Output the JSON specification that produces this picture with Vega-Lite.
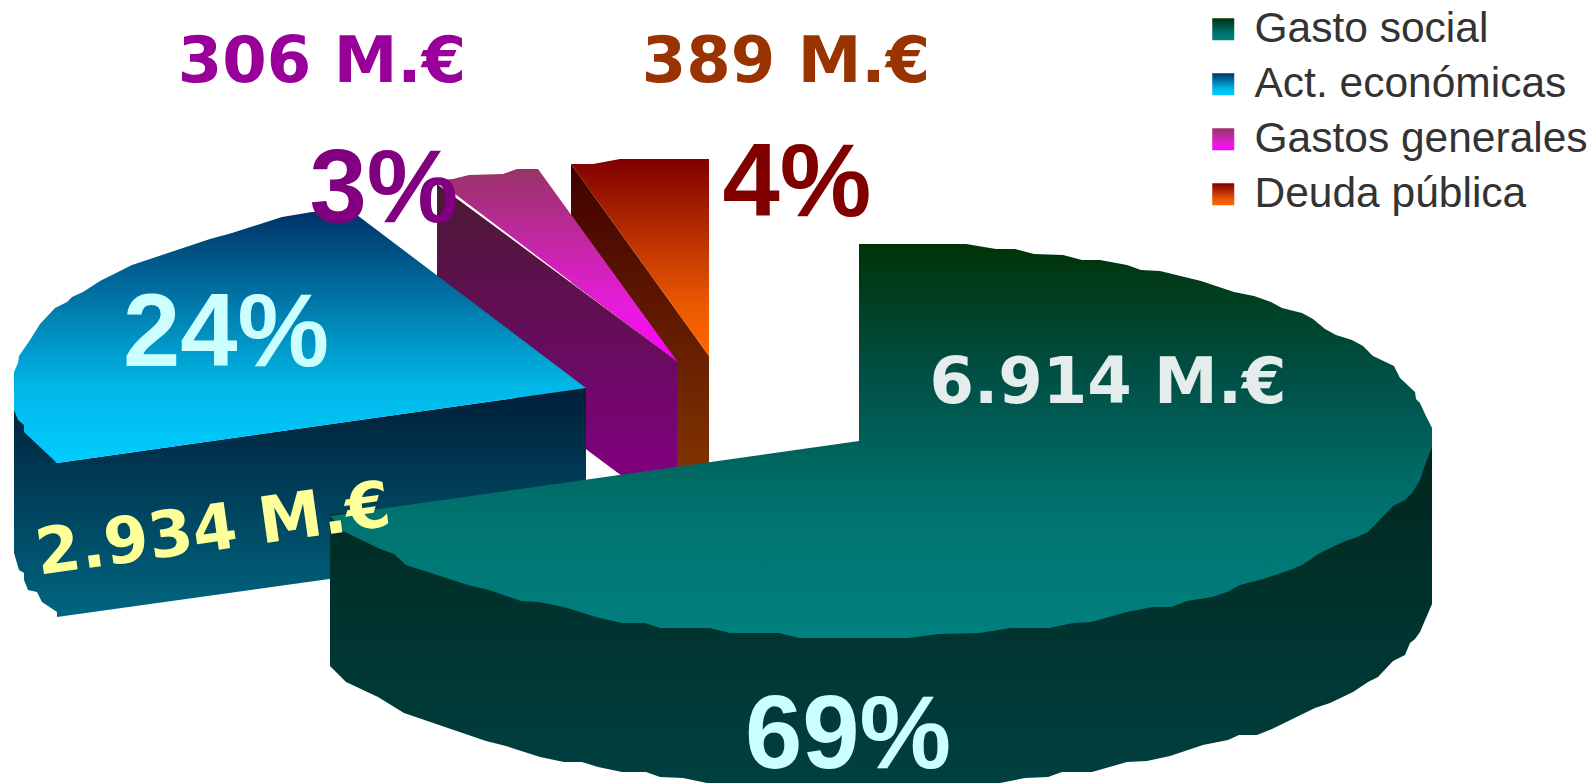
{"$schema":"https://vega.github.io/schema/vega-lite/v6.json","width":1593,"height":783,"padding":0,"autosize":{"type":"none"},"background":"white","view":{"stroke":null},"resolve":{"scale":{"color":"independent"}},
"layer":[
{"data":{"values":[
{"cara":"Deuda lateral","n":1,"x":571,"y":164},{"cara":"Deuda lateral","n":2,"x":709,"y":356},{"cara":"Deuda lateral","n":3,"x":709,"y":466},{"cara":"Deuda lateral","n":4,"x":677,"y":470},{"cara":"Deuda lateral","n":5,"x":677,"y":361},{"cara":"Deuda lateral","n":6,"x":571,"y":282},
{"cara":"Deuda pública","n":1,"x":571,"y":164},{"cara":"Deuda pública","n":2,"x":593,"y":164},{"cara":"Deuda pública","n":3,"x":620,"y":159},{"cara":"Deuda pública","n":4,"x":709,"y":159},{"cara":"Deuda pública","n":5,"x":709,"y":356},
{"cara":"Gastos lateral","n":1,"x":437,"y":184},{"cara":"Gastos lateral","n":2,"x":677,"y":361},{"cara":"Gastos lateral","n":3,"x":677,"y":468},{"cara":"Gastos lateral","n":4,"x":622,"y":476},{"cara":"Gastos lateral","n":5,"x":437,"y":338},
{"cara":"Gastos generales","n":1,"x":437,"y":180},{"cara":"Gastos generales","n":2,"x":453,"y":179},{"cara":"Gastos generales","n":3,"x":469,"y":175},{"cara":"Gastos generales","n":4,"x":503,"y":174},{"cara":"Gastos generales","n":5,"x":517,"y":169},{"cara":"Gastos generales","n":6,"x":538,"y":169},{"cara":"Gastos generales","n":7,"x":677,"y":361},{"cara":"Gastos generales","n":8,"x":570,"y":281},{"cara":"Gastos generales","n":9,"x":455,"y":194},
{"cara":"Act lateral","n":1,"x":14,"y":410},{"cara":"Act lateral","n":2,"x":57,"y":463},{"cara":"Act lateral","n":3,"x":586,"y":388},{"cara":"Act lateral","n":4,"x":586,"y":543},{"cara":"Act lateral","n":5,"x":57,"y":617},{"cara":"Act lateral","n":6,"x":57,"y":612},{"cara":"Act lateral","n":7,"x":42,"y":602},{"cara":"Act lateral","n":8,"x":37,"y":592},{"cara":"Act lateral","n":9,"x":28,"y":590},{"cara":"Act lateral","n":10,"x":24,"y":580},{"cara":"Act lateral","n":11,"x":24,"y":573},{"cara":"Act lateral","n":12,"x":19,"y":570},{"cara":"Act lateral","n":13,"x":14,"y":553},
{"cara":"Act. económicas","n":1,"x":586,"y":388},{"cara":"Act. económicas","n":2,"x":357,"y":215},{"cara":"Act. económicas","n":3,"x":333,"y":212},{"cara":"Act. económicas","n":4,"x":312,"y":212},{"cara":"Act. económicas","n":5,"x":282,"y":217},{"cara":"Act. económicas","n":6,"x":232,"y":233},{"cara":"Act. económicas","n":7,"x":210,"y":239},{"cara":"Act. económicas","n":8,"x":132,"y":265},{"cara":"Act. económicas","n":9,"x":100,"y":281},{"cara":"Act. económicas","n":10,"x":83,"y":292},{"cara":"Act. económicas","n":11,"x":72,"y":297},{"cara":"Act. económicas","n":12,"x":67,"y":302},{"cara":"Act. económicas","n":13,"x":55,"y":308},{"cara":"Act. económicas","n":14,"x":40,"y":324},{"cara":"Act. económicas","n":15,"x":30,"y":340},{"cara":"Act. económicas","n":16,"x":19,"y":356},{"cara":"Act. económicas","n":17,"x":18,"y":363},{"cara":"Act. económicas","n":18,"x":14,"y":372},{"cara":"Act. económicas","n":19,"x":14,"y":410},{"cara":"Act. económicas","n":20,"x":18,"y":420},{"cara":"Act. económicas","n":21,"x":24,"y":425},{"cara":"Act. económicas","n":22,"x":24,"y":432},{"cara":"Act. económicas","n":23,"x":57,"y":463},
{"cara":"Social lateral","n":1,"x":330,"y":514},{"cara":"Social lateral","n":2,"x":1432,"y":447},{"cara":"Social lateral","n":3,"x":1432,"y":604},{"cara":"Social lateral","n":4,"x":1420,"y":632},{"cara":"Social lateral","n":5,"x":1415,"y":639},{"cara":"Social lateral","n":6,"x":1410,"y":643},{"cara":"Social lateral","n":7,"x":1405,"y":655},{"cara":"Social lateral","n":8,"x":1393,"y":661},{"cara":"Social lateral","n":9,"x":1378,"y":677},{"cara":"Social lateral","n":10,"x":1368,"y":682},{"cara":"Social lateral","n":11,"x":1353,"y":692},{"cara":"Social lateral","n":12,"x":1330,"y":703},{"cara":"Social lateral","n":13,"x":1315,"y":708},{"cara":"Social lateral","n":14,"x":1272,"y":729},{"cara":"Social lateral","n":15,"x":1257,"y":735},{"cara":"Social lateral","n":16,"x":1239,"y":735},{"cara":"Social lateral","n":17,"x":1228,"y":740},{"cara":"Social lateral","n":18,"x":1203,"y":745},{"cara":"Social lateral","n":19,"x":1170,"y":756},{"cara":"Social lateral","n":20,"x":1147,"y":761},{"cara":"Social lateral","n":21,"x":1127,"y":762},{"cara":"Social lateral","n":22,"x":1092,"y":772},{"cara":"Social lateral","n":23,"x":1062,"y":772},{"cara":"Social lateral","n":24,"x":1048,"y":777},{"cara":"Social lateral","n":25,"x":1025,"y":778},{"cara":"Social lateral","n":26,"x":1000,"y":783},{"cara":"Social lateral","n":27,"x":707,"y":783},{"cara":"Social lateral","n":28,"x":683,"y":778},{"cara":"Social lateral","n":29,"x":660,"y":777},{"cara":"Social lateral","n":30,"x":646,"y":772},{"cara":"Social lateral","n":31,"x":622,"y":772},{"cara":"Social lateral","n":32,"x":598,"y":767},{"cara":"Social lateral","n":33,"x":582,"y":762},{"cara":"Social lateral","n":34,"x":564,"y":762},{"cara":"Social lateral","n":35,"x":540,"y":757},{"cara":"Social lateral","n":36,"x":506,"y":746},{"cara":"Social lateral","n":37,"x":486,"y":741},{"cara":"Social lateral","n":38,"x":404,"y":713},{"cara":"Social lateral","n":39,"x":378,"y":697},{"cara":"Social lateral","n":40,"x":346,"y":682},{"cara":"Social lateral","n":41,"x":330,"y":666},
{"cara":"Gasto social","n":1,"x":859,"y":441},{"cara":"Gasto social","n":2,"x":859,"y":244},{"cara":"Gasto social","n":3,"x":966,"y":244},{"cara":"Gasto social","n":4,"x":996,"y":249},{"cara":"Gasto social","n":5,"x":1015,"y":249},{"cara":"Gasto social","n":6,"x":1034,"y":254},{"cara":"Gasto social","n":7,"x":1063,"y":255},{"cara":"Gasto social","n":8,"x":1082,"y":260},{"cara":"Gasto social","n":9,"x":1100,"y":260},{"cara":"Gasto social","n":10,"x":1127,"y":265},{"cara":"Gasto social","n":11,"x":1141,"y":270},{"cara":"Gasto social","n":12,"x":1160,"y":271},{"cara":"Gasto social","n":13,"x":1201,"y":281},{"cara":"Gasto social","n":14,"x":1234,"y":292},{"cara":"Gasto social","n":15,"x":1254,"y":296},{"cara":"Gasto social","n":16,"x":1271,"y":302},{"cara":"Gasto social","n":17,"x":1282,"y":308},{"cara":"Gasto social","n":18,"x":1302,"y":313},{"cara":"Gasto social","n":19,"x":1313,"y":319},{"cara":"Gasto social","n":20,"x":1325,"y":329},{"cara":"Gasto social","n":21,"x":1336,"y":335},{"cara":"Gasto social","n":22,"x":1352,"y":340},{"cara":"Gasto social","n":23,"x":1363,"y":346},{"cara":"Gasto social","n":24,"x":1373,"y":356},{"cara":"Gasto social","n":25,"x":1394,"y":366},{"cara":"Gasto social","n":26,"x":1400,"y":378},{"cara":"Gasto social","n":27,"x":1415,"y":392},{"cara":"Gasto social","n":28,"x":1416,"y":399},{"cara":"Gasto social","n":29,"x":1420,"y":403},{"cara":"Gasto social","n":30,"x":1425,"y":414},{"cara":"Gasto social","n":31,"x":1432,"y":428},{"cara":"Gasto social","n":32,"x":1432,"y":447},{"cara":"Gasto social","n":33,"x":1425,"y":465},{"cara":"Gasto social","n":34,"x":1420,"y":480},{"cara":"Gasto social","n":35,"x":1412,"y":493},{"cara":"Gasto social","n":36,"x":1405,"y":500},{"cara":"Gasto social","n":37,"x":1393,"y":506},{"cara":"Gasto social","n":38,"x":1368,"y":532},{"cara":"Gasto social","n":39,"x":1357,"y":537},{"cara":"Gasto social","n":40,"x":1343,"y":542},{"cara":"Gasto social","n":41,"x":1320,"y":553},{"cara":"Gasto social","n":42,"x":1302,"y":565},{"cara":"Gasto social","n":43,"x":1290,"y":570},{"cara":"Gasto social","n":44,"x":1263,"y":579},{"cara":"Gasto social","n":45,"x":1240,"y":585},{"cara":"Gasto social","n":46,"x":1227,"y":592},{"cara":"Gasto social","n":47,"x":1212,"y":597},{"cara":"Gasto social","n":48,"x":1187,"y":601},{"cara":"Gasto social","n":49,"x":1171,"y":607},{"cara":"Gasto social","n":50,"x":1153,"y":607},{"cara":"Gasto social","n":51,"x":1127,"y":612},{"cara":"Gasto social","n":52,"x":1091,"y":622},{"cara":"Gasto social","n":53,"x":1073,"y":623},{"cara":"Gasto social","n":54,"x":1049,"y":628},{"cara":"Gasto social","n":55,"x":1010,"y":628},{"cara":"Gasto social","n":56,"x":980,"y":633},{"cara":"Gasto social","n":57,"x":939,"y":634},{"cara":"Gasto social","n":58,"x":908,"y":638},{"cara":"Gasto social","n":59,"x":799,"y":638},{"cara":"Gasto social","n":60,"x":779,"y":633},{"cara":"Gasto social","n":61,"x":730,"y":633},{"cara":"Gasto social","n":62,"x":710,"y":628},{"cara":"Gasto social","n":63,"x":660,"y":628},{"cara":"Gasto social","n":64,"x":645,"y":623},{"cara":"Gasto social","n":65,"x":622,"y":623},{"cara":"Gasto social","n":66,"x":596,"y":617},{"cara":"Gasto social","n":67,"x":564,"y":607},{"cara":"Gasto social","n":68,"x":539,"y":602},{"cara":"Gasto social","n":69,"x":521,"y":601},{"cara":"Gasto social","n":70,"x":489,"y":590},{"cara":"Gasto social","n":71,"x":468,"y":585},{"cara":"Gasto social","n":72,"x":406,"y":565},{"cara":"Gasto social","n":73,"x":394,"y":554},{"cara":"Gasto social","n":74,"x":378,"y":548},{"cara":"Gasto social","n":75,"x":343,"y":531},{"cara":"Gasto social","n":76,"x":330,"y":516}
]},
"mark":{"type":"line","strokeWidth":0,"interpolate":"linear"},
"encoding":{
"x":{"field":"x","type":"quantitative","scale":{"domain":[0,1593],"nice":false},"axis":null},
"y":{"field":"y","type":"quantitative","scale":{"domain":[783,0],"nice":false},"axis":null},
"order":{"field":"n","type":"quantitative"},
"fill":{"field":"cara","type":"nominal",
"scale":{"domain":["Gasto social","Act. económicas","Gastos generales","Deuda pública","Social lateral","Act lateral","Gastos lateral","Deuda lateral"],
"range":[
{"expr":"{gradient:'linear',x1:0,y1:0,x2:0,y2:1,stops:[{offset:0,color:'#003308'},{offset:0.33,color:'#004F45'},{offset:0.68,color:'#00736F'},{offset:1,color:'#008080'}]}"},
{"expr":"{gradient:'linear',x1:0,y1:0,x2:0,y2:1,stops:[{offset:0,color:'#003366'},{offset:0.7,color:'#00B8E8'},{offset:1,color:'#00CCFF'}]}"},
{"expr":"{gradient:'linear',x1:0,y1:0,x2:0,y2:1,stops:[{offset:0,color:'#993366'},{offset:0.72,color:'#E81CDC'},{offset:1,color:'#FF00FF'}]}"},
{"expr":"{gradient:'linear',x1:0,y1:0,x2:0,y2:1,stops:[{offset:0,color:'#800000'},{offset:0.75,color:'#EC5A00'},{offset:1,color:'#FF6600'}]}"},
{"expr":"{gradient:'linear',x1:0,y1:0,x2:0,y2:1,stops:[{offset:0,color:'#00261C'},{offset:1,color:'#004040'}]}"},
{"expr":"{gradient:'linear',x1:0,y1:0,x2:0,y2:1,stops:[{offset:0,color:'#001E38'},{offset:1,color:'#006680'}]}"},
{"expr":"{gradient:'linear',x1:0,y1:0,x2:0,y2:1,stops:[{offset:0,color:'#4A1A33'},{offset:1,color:'#800080'}]}"},
{"expr":"{gradient:'linear',x1:0,y1:0,x2:0,y2:1,stops:[{offset:0,color:'#400000'},{offset:1,color:'#803300'}]}"}
]},
"legend":{"orient":"none","legendX":1202,"legendY":8,"title":null,"values":["Gasto social","Act. económicas","Gastos generales","Deuda pública"],"symbolType":"square","symbolSize":484,"symbolStrokeWidth":0,"symbolOpacity":1,"labelFont":"Liberation Sans","labelFontSize":42.5,"labelColor":"#333333","labelOffset":10,"rowPadding":12,"labelLimit":400,"padding":0}
}}},
{"data":{"values":[
{"etiqueta":"306 M.€","x":322,"y":82},{"etiqueta":"389 M.€","x":786,"y":82},{"etiqueta":"6.914 M.€","x":1108,"y":403}
]},
"mark":{"type":"text","font":"DejaVu Sans","fontWeight":"bold","fontSize":64,"align":"center","baseline":"alphabetic"},
"encoding":{"x":{"field":"x","type":"quantitative","scale":{"domain":[0,1593],"nice":false}},"y":{"field":"y","type":"quantitative","scale":{"domain":[783,0],"nice":false}},"text":{"field":"etiqueta"},
"color":{"field":"etiqueta","type":"nominal","legend":null,"scale":{"domain":["306 M.€","389 M.€","6.914 M.€"],"range":["#990099","#993300","#E4ECEC"]}}}},
{"data":{"values":[{"etiqueta":"2.934 M.€","x":216,"y":550}]},
"mark":{"type":"text","font":"DejaVu Sans","fontWeight":"bold","fontSize":64,"align":"center","baseline":"alphabetic","angle":352,"color":"#FFFF99"},
"encoding":{"x":{"field":"x","type":"quantitative","scale":{"domain":[0,1593],"nice":false}},"y":{"field":"y","type":"quantitative","scale":{"domain":[783,0],"nice":false}},"text":{"field":"etiqueta"}}},
{"data":{"values":[
{"porcentaje":"3%","x":384,"y":222},{"porcentaje":"4%","x":797,"y":216},{"porcentaje":"24%","x":226,"y":366},{"porcentaje":"69%","x":848,"y":768}
]},
"mark":{"type":"text","font":"Liberation Sans","fontWeight":"bold","fontSize":103,"align":"center","baseline":"alphabetic"},
"encoding":{"x":{"field":"x","type":"quantitative","scale":{"domain":[0,1593],"nice":false}},"y":{"field":"y","type":"quantitative","scale":{"domain":[783,0],"nice":false}},"text":{"field":"porcentaje"},
"color":{"field":"porcentaje","type":"nominal","legend":null,"scale":{"domain":["3%","4%","24%","69%"],"range":["#800080","#800000","#CCFFFF","#CCFFFF"]}}}}
]}
